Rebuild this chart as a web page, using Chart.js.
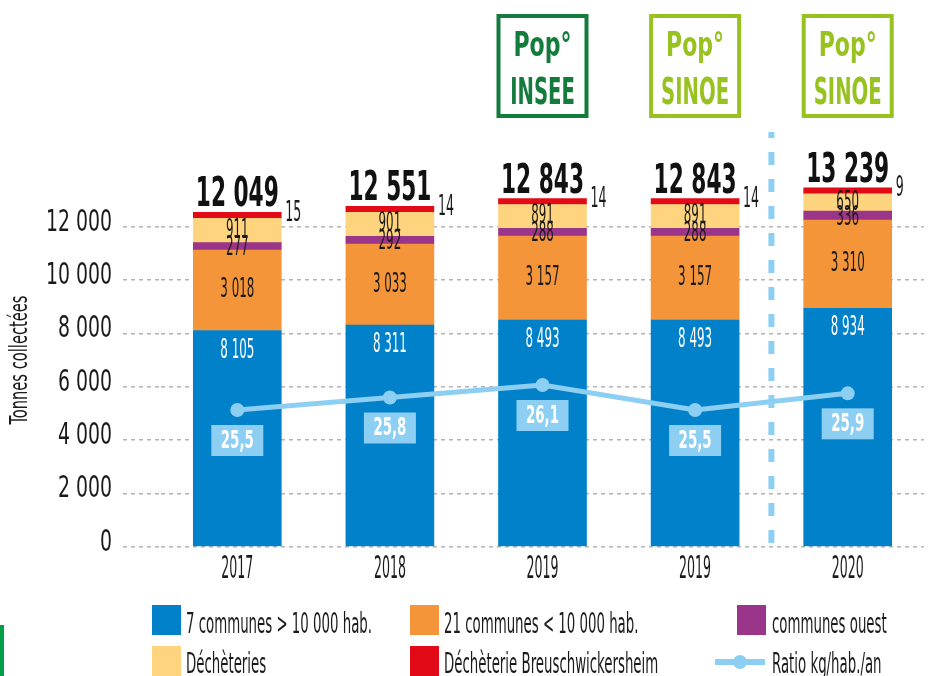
<!DOCTYPE html>
<html>
<head>
<meta charset="utf-8">
<title>Tonnes collectées</title>
<style>
  html, body { margin: 0; padding: 0; background: #fff; }
  #wrap { position: relative; width: 939px; height: 676px; overflow: hidden; }
  #leftMark { position: absolute; left: 0; top: 625px; width: 4px; height: 51px; background: #00a04a; }
</style>
<script src="https://cdn.jsdelivr.net/npm/chart.js@4.4.1/dist/chart.umd.min.js"></script>
</head>
<body>
<div id="wrap">
  <canvas id="chart" width="939" height="676"></canvas>
  <div id="leftMark"></div>
</div>
<script>
// data
const years = ['2017', '2018', '2019', '2019', '2020'];
const grandesCommunes = [8105, 8311, 8493, 8493, 8934];
const petitesCommunes = [3018, 3033, 3157, 3157, 3310];
const communesOuest = [277, 292, 288, 288, 336];
const decheteries = [911, 901, 891, 891, 650];
const decheterieBreusch = [15, 14, 14, 14, 9];
const totals = [12049, 12551, 12843, 12843, 13239];
const ratio = [25.5, 25.8, 26.1, 25.5, 25.9];
const popSource = [null, null, 'INSEE', 'SINOE', 'SINOE'];

const FAM = "'Liberation Sans Narrow', 'DejaVu Sans Condensed', 'Liberation Sans', sans-serif";
const BLUE = '#0081c9', ORANGE = '#f4953a', PURPLE = '#9a3589', YELLOW = '#fed47f', RED = '#e30a17';
const SKY = '#8dcff3', INK = '#1a1a1a';

const canvas = document.getElementById('chart');
const ctx = canvas.getContext('2d');

// the reference uses a very condensed face: squeeze each text style horizontally
const squeeze = {};
function fontStr(size, weight) {
  return (weight ? weight + ' ' : '') + size + 'px ' + FAM;
}
function register(size, weight, sample, width) {
  ctx.font = fontStr(size, weight);
  squeeze[ctx.font] = width / ctx.measureText(sample).width;
}
register(31, null, '12 000', 66);               // y ticks
register(32, null, '2017', 32);                 // x ticks
register(24, null, 'Tonnes collectées', 129);   // axis title
register(27, null, '3 157', 34);                // segment values
register(29, null, '14', 16);                   // red values
register(28, null, '7 communes > 10 000 hab.', 186); // legend
register(41, 'bold', '12 843', 83);             // totals
register(25, 'bold', '25,5', 33);               // ratio labels
register(34, 'bold', 'Pop°', 58);
register(37, 'bold', 'SINOE', 68);

const rawFill = ctx.fillText.bind(ctx);
ctx.fillText = function (t, x, y, m) {
  const k = squeeze[this.font];
  if (!k) return m === undefined ? rawFill(t, x, y) : rawFill(t, x, y, m);
  this.save();
  this.translate(x, y);
  this.scale(k, 1);
  rawFill(t, 0, 0);
  this.restore();
};

function fmt(v) {
  return String(v).replace(/\B(?=(\d{3})+(?!\d))/g, ' ');
}

function text(c, s, x, y, size, weight, color, align, baseline) {
  c.font = fontStr(size, weight);
  c.fillStyle = color;
  c.textAlign = align || 'center';
  c.textBaseline = baseline || 'alphabetic';
  c.fillText(s, x, y);
}

const decor = {
  id: 'decor',
  beforeDatasetsDraw(chart) {
    const c = chart.ctx, xs = chart.scales.x;
    const sx = (xs.getPixelForValue(3) + xs.getPixelForValue(4)) / 2;
    c.save();
    c.strokeStyle = SKY;
    c.lineWidth = 6;
    c.setLineDash([13, 14]);
    c.lineDashOffset = 7;
    c.beginPath();
    c.moveTo(sx, 132);
    c.lineTo(sx, chart.chartArea.bottom);
    c.stroke();
    c.restore();
  },
  afterDatasetsDraw(chart) {
    const c = chart.ctx;
    c.save();
    const seg = (d) => chart.getDatasetMeta(d).data;
    const blue = seg(1), orange = seg(2), purple = seg(3), yellow = seg(4), red = seg(5);
    const line = chart.getDatasetMeta(0).data;
    years.forEach((y, i) => {
      const x = blue[i].x;
      text(c, fmt(grandesCommunes[i]), x, blue[i].y + 20, 27, null, '#fff', 'center', 'middle');
      text(c, fmt(petitesCommunes[i]), x, (orange[i].y + orange[i].base) / 2, 27, null, INK, 'center', 'middle');
      text(c, fmt(communesOuest[i]), x, (purple[i].y + purple[i].base) / 2 + 2, 27, null, INK, 'center', 'middle');
      text(c, fmt(decheteries[i]), x, (yellow[i].y + yellow[i].base) / 2, 27, null, INK, 'center', 'middle');
      text(c, fmt(decheterieBreusch[i]), x + 48, red[i].y + 1, 29, null, INK, 'left', 'middle');
      text(c, fmt(totals[i]), x, red[i].y - 6, 41, 'bold', '#111', 'center', 'alphabetic');

      // ratio label box
      const p = line[i];
      c.fillStyle = SKY;
      c.fillRect(x - 26, p.y + 15, 52, 31);
      text(c, String(ratio[i]).replace('.', ','), x, p.y + 31, 25, 'bold', '#fff', 'center', 'middle');

      // population source boxes
      if (popSource[i]) {
        const col = popSource[i] === 'INSEE' ? '#137b3c' : '#98c21f';
        c.strokeStyle = col;
        c.lineWidth = 4;
        c.strokeRect(x - 44, 16, 88, 100);
        text(c, 'Pop°', x, 56, 34, 'bold', col, 'center', 'alphabetic');
        text(c, popSource[i], x, 104, 37, 'bold', col, 'center', 'alphabetic');
      }
    });
    c.restore();
  },
  afterDraw(chart) {
    const c = chart.ctx;
    c.save();
    const items = [
      [152, 605, BLUE, '7 communes > 10 000 hab.', 186, 633],
      [410, 605, ORANGE, '21 communes < 10 000 hab.', 444, 633],
      [737, 605, PURPLE, 'communes ouest', 772, 633],
      [152, 646, YELLOW, 'Déchèteries', 186, 673],
      [410, 646, RED, 'Déchèterie Breuschwickersheim', 444, 673]
    ];
    items.forEach(([sx, sy, col, label, tx, ty]) => {
      c.fillStyle = col;
      c.fillRect(sx, sy, 29, 30);
      text(c, label, tx, ty, 28, null, INK, 'left', 'alphabetic');
    });
    c.strokeStyle = SKY;
    c.lineWidth = 6;
    c.beginPath();
    c.moveTo(715, 662);
    c.lineTo(765, 662);
    c.stroke();
    c.fillStyle = SKY;
    c.beginPath();
    c.arc(740, 662, 7, 0, Math.PI * 2);
    c.fill();
    text(c, 'Ratio kg/hab./an', 772, 673, 28, null, INK, 'left', 'alphabetic');
    c.restore();
  }
};

const barBase = { type: 'bar', stack: 's', order: 1, barThickness: 88, borderWidth: 0 };

new Chart(ctx, {
  type: 'bar',
  data: {
    labels: years,
    datasets: [
      {
        type: 'line', label: 'Ratio kg/hab./an', data: ratio, yAxisID: 'y1', order: 0,
        borderColor: SKY, backgroundColor: SKY, borderWidth: 5, tension: 0,
        pointRadius: 7, pointBorderWidth: 0, pointBackgroundColor: SKY
      },
      Object.assign({}, barBase, { label: '7 communes > 10 000 hab.', data: grandesCommunes, backgroundColor: BLUE }),
      Object.assign({}, barBase, { label: '21 communes < 10 000 hab.', data: petitesCommunes, backgroundColor: ORANGE }),
      Object.assign({}, barBase, { label: 'communes ouest', data: communesOuest, backgroundColor: PURPLE }),
      Object.assign({}, barBase, { label: 'Déchèteries', data: decheteries, backgroundColor: YELLOW }),
      Object.assign({}, barBase, { label: 'Déchèterie Breuschwickersheim', data: decheterieBreusch, backgroundColor: RED, minBarLength: 6 })
    ]
  },
  options: {
    responsive: false,
    animation: false,
    layout: { padding: { top: 173.3, bottom: 89.3, left: 0, right: 15 } },
    plugins: { legend: { display: false }, tooltip: { enabled: false } },
    scales: {
      x: {
        stacked: true,
        grid: { display: false, drawTicks: false },
        border: { display: false },
        ticks: { color: INK, font: { family: FAM, size: 32 }, padding: 4 },
        afterFit(s) { s.height = 40; }
      },
      y: {
        stacked: true,
        min: 0,
        max: 14000,
        border: { display: false, dash: [4, 4] },
        grid: {
          color: (c) => (c.tick && c.tick.value > 12000 ? 'rgba(0,0,0,0)' : '#b4b4b4'),
          lineWidth: 1.5,
          tickLength: 38,
          tickBorderDash: [4, 4]
        },
        ticks: {
          stepSize: 2000,
          color: INK,
          padding: 11,
          labelOffset: -4,
          font: { family: FAM, size: 31 },
          callback: (v) => (v > 12000 ? '' : fmt(v))
        },
        title: {
          display: true,
          text: 'Tonnes collectées',
          color: INK,
          font: { family: FAM, size: 24 },
          padding: { top: 6, bottom: 0 }
        },
        afterFit(s) { s.width = 161; }
      },
      y1: {
        display: false,
        min: 22.22,
        max: 31.18
      }
    }
  },
  plugins: [decor]
});
</script>
</body>
</html>
